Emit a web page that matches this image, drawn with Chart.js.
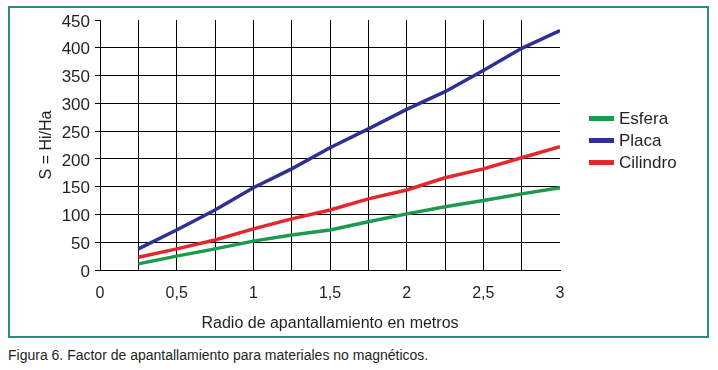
<!DOCTYPE html>
<html>
<head>
<meta charset="utf-8">
<script src="https://cdn.jsdelivr.net/npm/chart.js@4/dist/chart.umd.min.js"></script>
<style>
  body { margin: 0; background: #fff; font-family: "Liberation Sans", Arial, sans-serif; color: #231f20; }
  #frame { position: absolute; left: 8px; top: 6px; width: 701px; height: 332px; box-sizing: border-box; border: 2px solid #2b8c82; }
  #wrap { position: absolute; left: 0; top: 0; width: 718px; height: 340px; }
  #legend { position: absolute; left: 589px; top: 108px; font-size: 17px; }
  #legend div { height: 22px; line-height: 22px; white-space: nowrap; }
  #legend span { display: inline-block; width: 25px; height: 5px; vertical-align: middle; margin-right: 5px; position: relative; top: -1px; }
  #caption { position: absolute; left: 8px; top: 347px; font-size: 14px; line-height: 16px; }
</style>
</head>
<body>
<div id="frame"></div>
<div id="wrap"><canvas id="chart"></canvas></div>
<div id="legend"></div>
<div id="caption">Figura 6. Factor de apantallamiento para materiales no magnéticos.</div>
<script>
"use strict";

// radio (m)
var radios = [0.25, 0.5, 0.75, 1, 1.25, 1.5, 1.75, 2, 2.25, 2.5, 2.75, 3];
// S = Hi/Ha
var esfera = [11, 25, 38, 52, 63, 72, 87, 101, 114, 125, 137, 148];
var placa = [38, 72, 108, 148, 182, 220, 254, 289, 321, 359, 399, 431];
var cilindro = [23, 38, 54, 74, 92, 108, 128, 144, 166, 182, 202, 222];

var seriesNames = ["Esfera", "Placa", "Cilindro"];
var seriesColors = ["#1b9a50", "#2e3192", "#e4262d"];
var seriesValues = [esfera, placa, cilindro];

var xTitle = "Radio de apantallamiento en metros";
var yTitle = "S = Hi/Ha";

function toPoints(vals) {
  return vals.map((v, i) => ({ x: radios[i], y: v }));
}

var datasets = seriesNames.map((name, i) => ({
  label: name,
  data: toPoints(seriesValues[i]),
  borderColor: seriesColors[i],
  backgroundColor: seriesColors[i],
  borderWidth: 3.5,
  pointRadius: 0,
  tension: 0,
}));

// legend (html, from the same arrays)
var legendEl = document.getElementById("legend");
seriesNames.forEach((name, i) => {
  var row = document.createElement("div");
  var sw = document.createElement("span");
  sw.style.background = seriesColors[i];
  row.appendChild(sw);
  row.appendChild(document.createTextNode(name));
  legendEl.appendChild(row);
});

var txt = "#231f20";

new Chart(document.getElementById("chart").getContext("2d"), {
  type: "line",
  data: { datasets: datasets },
  options: {
    responsive: true,
    maintainAspectRatio: false,
    animation: false,
    layout: { padding: { left: 8, right: 158, top: 20, bottom: 0 } },
    plugins: { legend: { display: false }, tooltip: { enabled: false } },
    scales: {
      x: {
        type: "linear",
        min: 0,
        max: 3,
        afterFit: (scale) => { scale.height = 70; },
        border: { display: true, color: "#000", width: 1 },
        grid: {
          drawTicks: false,
          lineWidth: 1,
          color: (c) => (c.tick && (c.tick.value === 0 || c.tick.value === 3) ? "rgba(0,0,0,0)" : "#000"),
        },
        ticks: {
          stepSize: 0.25,
          autoSkip: false,
          maxRotation: 0,
          padding: 14,
          color: txt,
          font: { family: "Liberation Sans", size: 16 },
          callback: (v) => {
            if (Math.abs(v * 2 - Math.round(v * 2)) > 1e-9) return "";
            return String(v).replace(".", ",");
          },
        },
        title: {
          display: true,
          text: xTitle,
          color: txt,
          font: { family: "Liberation Sans", size: 16 },
          padding: { top: 0, bottom: 7 },
        },
      },
      y: {
        min: 0,
        max: 450,
        afterFit: (scale) => { scale.width = 92; },
        border: { display: true, color: "#000", width: 1 },
        grid: {
          drawTicks: true,
          tickLength: 5,
          tickColor: "#000",
          lineWidth: 1,
          color: (c) => (c.tick && c.tick.value === 450 ? "rgba(0,0,0,0)" : "#000"),
        },
        ticks: { stepSize: 50, padding: 5, labelOffset: 2, color: txt, font: { family: "Liberation Sans", size: 17 } },
        title: {
          display: true,
          text: yTitle,
          color: txt,
          font: { family: "Liberation Sans", size: 16 },
          padding: { top: 29, bottom: 0 },
        },
      },
    },
  },
});
</script>
</body>
</html>
